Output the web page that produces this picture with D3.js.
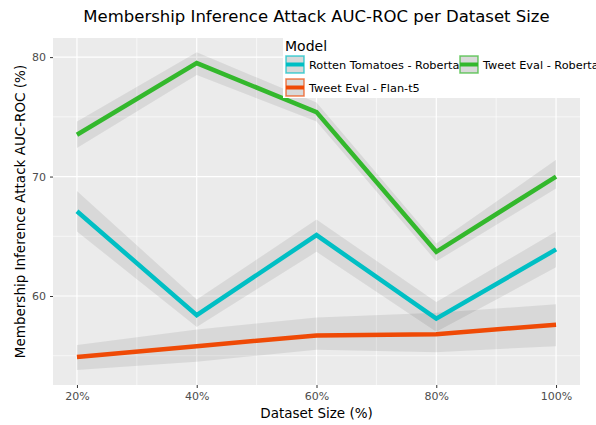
<html>
<meta charset="utf-8">
<script src="https://d3js.org/d3.v7.min.js"></script>
<style>
  body { margin: 0; background: #fff; }
  text { font-family: "DejaVu Sans", sans-serif; }
</style>
<div id="chart"></div>
<script>
// dataset sizes (%)
let sizes = [20, 40, 60, 80, 100]
let xTickLabels = ["20%", "40%", "60%", "80%", "100%"]
let yTicks = [60, 70, 80]

let models = ["Rotten Tomatoes - Roberta", "Tweet Eval - Roberta", "Tweet Eval - Flan-t5"]
let colors = ["#00bfc4", "#33b82c", "#ef4a06"]

// mean AUC-ROC per model
let rtRoberta = [67.1, 58.4, 65.1, 58.1, 63.9]
let teRoberta = [73.5, 79.5, 75.4, 63.7, 70.0]
let teFlan = [54.9, 55.8, 56.7, 56.8, 57.6]

// ribbon bounds
let rtLow = [65.4, 57.4, 63.7, 57.0, 62.4]
let rtHigh = [68.8, 59.7, 66.4, 59.5, 65.4]
let teLow = [72.4, 78.5, 74.6, 62.9, 69.0]
let teHigh = [74.6, 80.4, 76.2, 64.4, 71.4]
let flLow = [53.8, 54.5, 55.5, 55.3, 55.8]
let flHigh = [55.9, 57.2, 58.2, 58.6, 59.3]

let series = [
  {name: models[0], color: colors[0], mean: rtRoberta, low: rtLow, high: rtHigh},
  {name: models[1], color: colors[1], mean: teRoberta, low: teLow, high: teHigh},
  {name: models[2], color: colors[2], mean: teFlan, low: flLow, high: flHigh}
]

let width = 596, height = 425
let panel = {left: 53, right: 580, top: 38, bottom: 385}

let svg = d3.select("#chart").append("svg")
  .attr("width", width)
  .attr("height", height)

let x = d3.scaleLinear().domain([16, 104]).range([panel.left, panel.right])
let y = d3.scaleLinear().domain([52.55, 81.6]).range([panel.bottom, panel.top])

// panel background
svg.append("rect")
  .attr("x", panel.left).attr("y", panel.top)
  .attr("width", panel.right - panel.left)
  .attr("height", panel.bottom - panel.top)
  .attr("fill", "#ebebeb")

let grid = svg.append("g")
// minor grid
;[30, 50, 70, 90].forEach(v => {
  grid.append("line").attr("x1", x(v)).attr("x2", x(v))
    .attr("y1", panel.top).attr("y2", panel.bottom)
    .attr("stroke", "#fff").attr("stroke-width", 0.6)
})
;[55, 65, 75].forEach(v => {
  grid.append("line").attr("y1", y(v)).attr("y2", y(v))
    .attr("x1", panel.left).attr("x2", panel.right)
    .attr("stroke", "#fff").attr("stroke-width", 0.6)
})
// major grid
sizes.forEach(v => {
  grid.append("line").attr("x1", x(v)).attr("x2", x(v))
    .attr("y1", panel.top).attr("y2", panel.bottom)
    .attr("stroke", "#fff").attr("stroke-width", 1.2)
})
yTicks.forEach(v => {
  grid.append("line").attr("y1", y(v)).attr("y2", y(v))
    .attr("x1", panel.left).attr("x2", panel.right)
    .attr("stroke", "#fff").attr("stroke-width", 1.2)
})

// ribbons
let area = d3.area()
  .x((d, i) => x(sizes[i]))
  .y0(d => y(d[0]))
  .y1(d => y(d[1]))

series.forEach(s => {
  svg.append("path")
    .datum(s.low.map((l, i) => [l, s.high[i]]))
    .attr("d", area)
    .attr("fill", "#000")
    .attr("fill-opacity", 0.08)
})

let line = d3.line()
  .x((d, i) => x(sizes[i]))
  .y(d => y(d))

series.forEach(s => {
  svg.append("path")
    .datum(s.mean)
    .attr("d", line)
    .attr("fill", "none")
    .attr("stroke", s.color)
    .attr("stroke-width", 4.5)
})

// axes
let xAxis = svg.append("g")
  .attr("transform", "translate(0," + panel.bottom + ")")
  .call(d3.axisBottom(x).tickValues(sizes).tickFormat((d, i) => xTickLabels[i]).tickSize(3).tickPadding(4))
let yAxis = svg.append("g")
  .attr("transform", "translate(" + panel.left + ",0)")
  .call(d3.axisLeft(y).tickValues(yTicks).tickSize(3).tickPadding(4))

;[xAxis, yAxis].forEach(a => {
  a.select(".domain").remove()
  a.selectAll(".tick line").attr("stroke", "#333")
  a.selectAll("text").attr("fill", "#4d4d4d").attr("font-size", "11px")
    .style("font-family", "DejaVu Sans, sans-serif")
})

svg.append("text")
  .attr("x", (panel.left + panel.right) / 2).attr("y", 22)
  .attr("text-anchor", "middle").attr("font-size", "16.5px")
  .text("Membership Inference Attack AUC-ROC per Dataset Size")

svg.append("text")
  .attr("x", (panel.left + panel.right) / 2).attr("y", 418)
  .attr("text-anchor", "middle").attr("font-size", "13.5px")
  .text("Dataset Size (%)")

svg.append("text")
  .attr("transform", "translate(25," + (panel.top + panel.bottom) / 2 + ") rotate(-90)")
  .attr("text-anchor", "middle").attr("font-size", "13.5px")
  .text("Membership Inference Attack AUC-ROC (%)")

// legend (runs past the right edge, as in the original)
let legend = svg.append("g").attr("transform", "translate(283,35)")
legend.append("rect")
  .attr("width", 330).attr("height", 63)
  .attr("fill", "#fff")
legend.append("text")
  .attr("x", 2).attr("y", 16)
  .attr("font-size", "14px")
  .text("Model")

let pos = [[2, 20], [176, 20], [2, 43]]
series.forEach((s, i) => {
  let g = legend.append("g").attr("transform", "translate(" + pos[i][0] + "," + pos[i][1] + ")")
  g.append("rect").attr("x", 1).attr("y", 1).attr("width", 18).attr("height", 17)
    .attr("fill", "#d9d9d9")
    .attr("stroke", s.color).attr("stroke-opacity", 0.7).attr("stroke-width", 1.5)
  g.append("line").attr("x1", 1).attr("x2", 19).attr("y1", 9.5).attr("y2", 9.5)
    .attr("stroke", s.color).attr("stroke-width", 4)
  g.append("text").attr("x", 24).attr("y", 14)
    .attr("font-size", "11.3px")
    .text(s.name)
})
</script>
</html>
